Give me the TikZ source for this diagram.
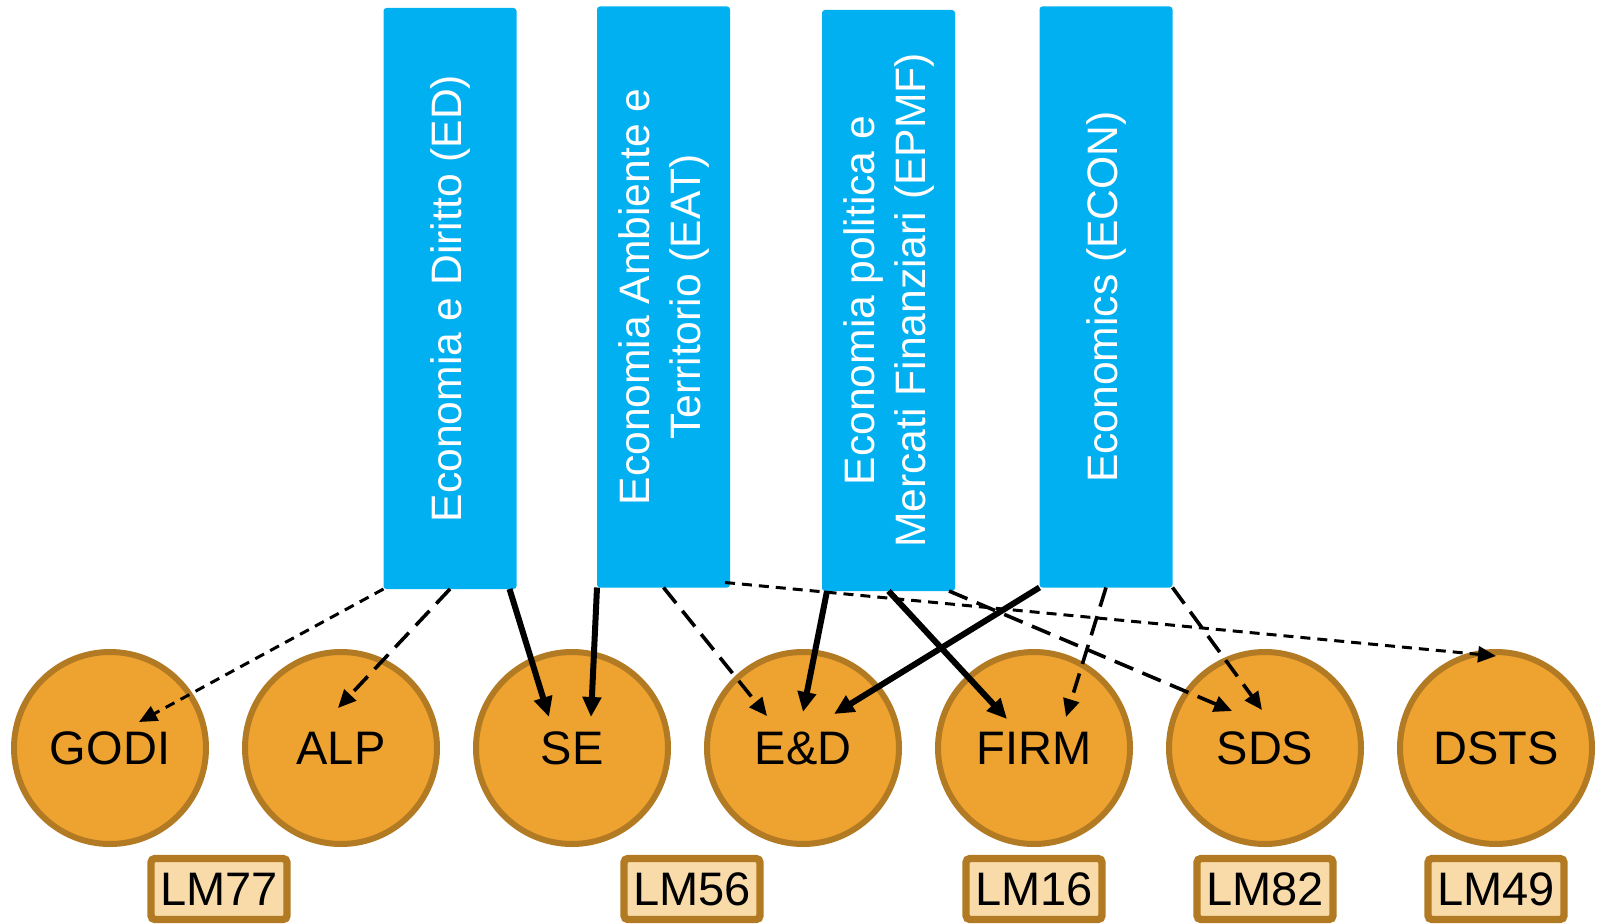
\documentclass[tikz,border=0pt]{standalone}
\usepackage{fontspec}
\setmainfont{Liberation Sans}
\usetikzlibrary{arrows.meta, positioning}
\definecolor{barblue}{HTML}{00B0F0}
\definecolor{uniorange}{HTML}{EEA230}
\definecolor{unibrown}{HTML}{B27A22}
\definecolor{codefill}{HTML}{F9DBAA}
\tikzstyle{curriculum} = [rectangle, minimum width=66.5pt, minimum height=290.5pt, inner sep=0pt, outer sep=0pt, fill=barblue, rounded corners=1.5pt]
\tikzstyle{curtext} = [rotate=90, align=center, text=white, font=\fontsize{21.3}{25.5}\selectfont]
\tikzstyle{degree} = [circle, minimum size=96pt, inner sep=0pt, outer sep=0pt, fill=uniorange, draw=unibrown, line width=3pt, font=\fontsize{23.5}{28}\selectfont]
\tikzstyle{code} = [rectangle, minimum width=68pt, minimum height=30.5pt, inner sep=0pt, fill=codefill, draw=unibrown, line width=3.7pt, rounded corners=2pt, font=\fontsize{23.5}{28}\selectfont]
\tikzstyle{solidarrow} = [line width=3pt, -{Triangle[length=10pt,width=9pt]}]
\tikzstyle{longdash} = [line width=1.8pt, dash pattern=on 10pt off 5pt, -{Triangle[length=9pt,width=8pt]}]
\tikzstyle{shortdash} = [line width=1.5pt, dash pattern=on 5pt off 3.5pt, -{Triangle[length=9pt,width=8pt]}]

\begin{document}
\begin{tikzpicture}[x=0.5pt, y=-0.5pt, node distance=115.5pt]
\useasboundingbox (0,0) rectangle (1599,924);

% Curricula
\node (ED) [curriculum] at (450,298.5) {};
\node (EAT) [curriculum] at (663.5,297) {};
\node (EPMF) [curriculum] at (888.5,300.5) {};
\node (ECON) [curriculum] at (1106,297) {};
\node (EDt) [curtext] at (ED) {Economia e Diritto (ED)};
\node (EATt) [curtext] at (EAT) {Economia Ambiente e\\Territorio (EAT)};
\node (EPMFt) [curtext] at (EPMF) {Economia politica e\\Mercati Finanziari (EPMF)};
\node (ECONt) [curtext] at (ECON) {Economics (ECON)};

% Corsi di laurea
\node (GODI) [degree] at (110,748) {GODI};
\node (ALP) [degree, right of=GODI] {ALP};
\node (SE) [degree, right of=ALP] {SE};
\node (EnD) [degree, right of=SE] {E\&D};
\node (FIRM) [degree, right of=EnD] {FIRM};
\node (SDS) [degree, right of=FIRM] {SDS};
\node (DSTS) [degree, right of=SDS] {DSTS};

% Classi
\node (LM77) [code, below of=GODI, node distance=70.5pt, xshift=54.5pt] {LM77};
\node (LM56) [code, below of=SE, node distance=70.5pt, xshift=60pt] {LM56};
\node (LM16) [code, below of=FIRM, node distance=70.5pt] {LM16};
\node (LM82) [code, below of=SDS, node distance=70.5pt] {LM82};
\node (LM49) [code, below of=DSTS, node distance=70.5pt] {LM49};

% Collegamenti
\draw [shortdash] (ED.south west) -- ([xshift=14.5pt,yshift=13pt]GODI.center);
\draw [longdash] (ED.south) -- ([xshift=-1.5pt,yshift=20pt]ALP.center);
\draw [solidarrow] ([xshift=-3.5pt]ED.south east) -- ([xshift=-11.5pt,yshift=15.5pt]SE.center);
\draw [solidarrow] (EAT.south west) -- ([xshift=9.5pt,yshift=15.5pt]SE.center);
\draw [longdash] (EAT.south) -- ([xshift=-18pt,yshift=16pt]EnD.center);
\draw [shortdash] ([xshift=-2.5pt,yshift=2.5pt]EAT.south east) -- ([yshift=-2pt]DSTS.north);
\draw [solidarrow] ([xshift=2.5pt]EPMF.south west) -- ([yshift=18pt]EnD.center);
\draw [solidarrow] (EPMF.south) -- ([xshift=-13.5pt,yshift=14.5pt]FIRM.center);
\draw [longdash] ([xshift=-3pt]EPMF.south east) -- ([xshift=-16.5pt,yshift=18.5pt]SDS.center);
\draw [solidarrow] (ECON.south west) -- ([xshift=15.5pt,yshift=17pt]EnD.center);
\draw [longdash] (ECON.south) -- ([xshift=16pt,yshift=15.5pt]FIRM.center);
\draw [longdash] (ECON.south east) -- ([xshift=-1.5pt,yshift=19pt]SDS.center);

\end{tikzpicture}
\end{document}
